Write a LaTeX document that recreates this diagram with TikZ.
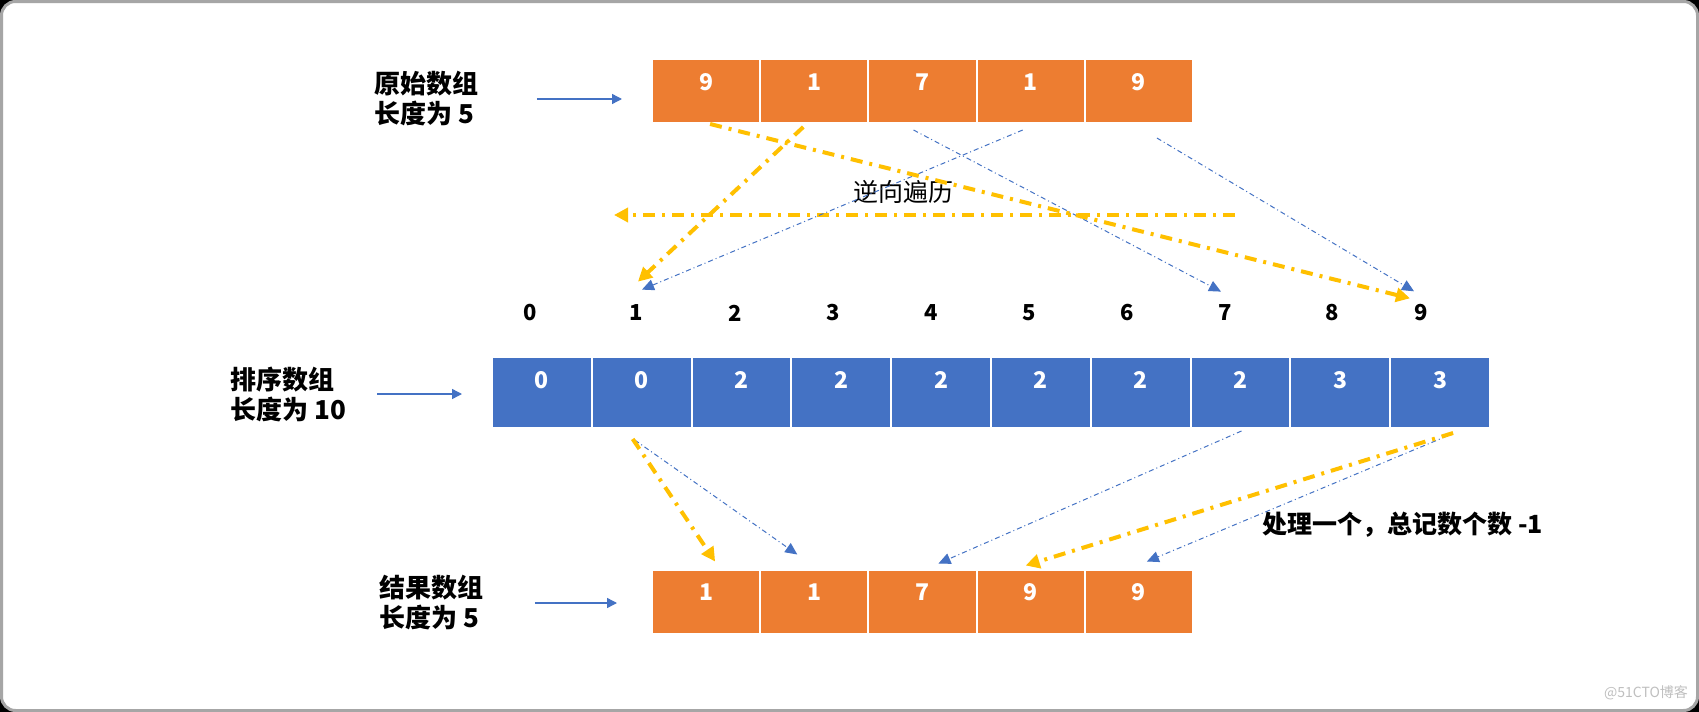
\documentclass[tikz,border=0pt]{standalone}
\usepackage{fontspec}
\setmainfont{Noto Sans CJK SC}
\usepackage{xcolor}
\definecolor{cOrange}{HTML}{ED7D31}
\definecolor{cBlue}{HTML}{4472C4}
\definecolor{cGold}{HTML}{FFC000}
\definecolor{cFrame}{HTML}{A6A6A6}
\usetikzlibrary{arrows.meta,calc}
\tikzset{
  cell-org/.style={draw=white,line width=1pt,fill=cOrange,text=white,
    minimum width=54.1pt,minimum height=32pt,inner sep=0pt,
    text height=15.7pt,text depth=16.3pt,
    font=\bfseries\fontsize{11.5}{12}\selectfont},
  cell-blue/.style={cell-org,fill=cBlue,minimum width=49.9pt,
    minimum height=35.5pt,text depth=19.8pt},
  idx/.style={inner sep=0pt,font=\bfseries\fontsize{11}{12}\selectfont},
  lbl/.style={anchor=west,align=left,inner sep=0pt,
    font=\bfseries\fontsize{13}{15}\selectfont},
  % 蓝色实线：说明文字 -> 数组
  arrow-in/.style={-{Triangle[length=5pt,width=5pt]},line width=0.7pt,draw=cBlue},
  % 黄色点划线：逆向遍历的取值
  arrow-gold/.style={-{Triangle[length=7pt,width=7pt]},line width=2pt,draw=cGold,
    dash pattern=on 6pt off 3.5pt on 1.5pt off 3.5pt},
  arrow-thin/.style={-{Triangle[length=6pt,width=5.5pt]},line width=0.5pt,draw=cBlue,
    dash pattern=on 2.5pt off 1.5pt on 0.5pt off 1.5pt},
}

\begin{document}
\begin{tikzpicture}[x=0.5pt,y=-0.5pt]
  \fill[black] (0,0) rectangle (1699,712);
  \draw[fill=white,draw=cFrame,line width=1.5pt,rounded corners=7pt]
    (1.5,1.5) rectangle (1697.5,710.5);
  \useasboundingbox (0,0) rectangle (1699,712);

  % 三个数组
  \foreach \v [count=\k] in {9,1,7,1,9}
    \node[cell-org] (o\k) at ({652+108.2*(\k-0.5)},91) {\v};
  \foreach \v [count=\k from 0] in {0,0,2,2,2,2,2,2,3,3}
    \node[cell-blue] (s\k) at ({492+99.8*(\k+0.5)},392.5) {\v};
  \foreach \v [count=\k] in {1,1,7,9,9}
    \node[cell-org] (r\k) at ({652+108.2*(\k-0.5)},601.5) {\v};
  \foreach \x [count=\k from 0] in {530,636,735,833,931,1029,1127,1225,1332,1421}
    \node[idx] (i\k) at (\x,313) {\k};

  \node[lbl] (lbl-orig) at (374,99) {原始数组\\长度为 5};
  \node[lbl] (lbl-sort) at (230,394) {排序数组\\长度为 10};
  \node[lbl] (lbl-res) at (379,603) {结果数组\\长度为 5};
  \node[font=\fontsize{12.5}{14}\selectfont,inner sep=0pt] (rev) at (903,192) {逆向遍历};
  \node[anchor=west,inner sep=0pt,font=\bfseries\fontsize{12.5}{14}\selectfont] (note)
    at (1262,525) {处理一个，总记数个数 -1};
  \node[text=black!25,inner sep=0pt,font=\fontsize{7}{8}\selectfont] (mark)
    at (1646,693) {@51CTO博客};

  \draw[arrow-in,shorten >=14.5pt] ([xshift=29pt]lbl-orig.east) -- (lbl-orig.east -| o1.west);
  \draw[arrow-in,shorten >=14.5pt] ([xshift=15.5pt]lbl-sort.east) -- (lbl-sort.east -| s0.west);
  \draw[arrow-in,shorten >=17pt] ([xshift=25.5pt]lbl-res.east) -- (lbl-res.east -| r1.west);

  \coordinate (rev-start) at (1235,215);
  \coordinate (rev-end) at (614,215);
  \draw[arrow-gold] (rev-start) -- (rev-end);

  % 原始数组 -> 计数下标
  \draw[arrow-thin] ($(o3.south)+(-9,6)$) -- ($(i7.north)+(-4,-13)$);
  \draw[arrow-thin] ($(o4.south)+(-8,6)$) -- ($(i1.north)+(6,-15)$);
  \draw[arrow-thin] ($(o5.south)+(18,14)$) -- ($(i9.north)+(-7,-13)$);
  \draw[arrow-gold] ($(o1.south)+(4,0)$) -- ($(i9.north)+(-11,-6)$);
  \draw[arrow-gold] ($(o2.south)+(-11,3)$) -- ($(i1.north)+(2,-23)$);

  % 排序数组 -> 结果数组
  \draw[arrow-thin] ($(s1.south)+(-7,11)$) -- ($(r2.north)+(-17,-14)$);
  \draw[arrow-thin] ($(s7.south)+(1,2)$) -- ($(r3.north)+(16,-5)$);
  \draw[arrow-thin] ($(s9.south)+(7,7)$) -- ($(r5.north)+(8,-7)$);
  \draw[arrow-gold] ($(s1.south)+(-9,10)$) -- ($(r1.north)+(9,-7)$);
  \draw[arrow-gold] ($(s9.south)+(13,4)$) -- ($(r4.north)+(-5,-3)$);
\end{tikzpicture}
\end{document}
